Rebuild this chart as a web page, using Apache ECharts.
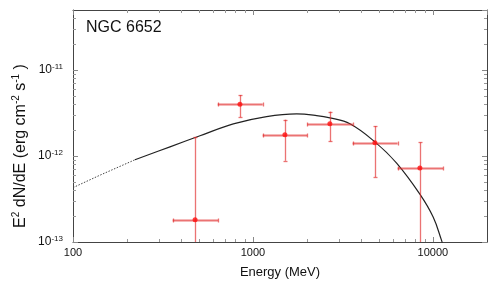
<!DOCTYPE html>
<html>
<head>
<meta charset="utf-8">
<script src="https://cdn.jsdelivr.net/npm/echarts@6/dist/echarts.min.js"></script>
<style>html,body{margin:0;padding:0;background:#fff}#c{width:491px;height:284px}</style>
</head>
<body>
<div id="c"></div>
<script>
// ---- data ----
const X_MIN = 100, X_MAX = 20000;
const Y_MIN = 1e-13, Y_MAX = 5e-11;

// data points: energy (MeV), E^2 dN/dE, x error range, y error range
const pointE   = [477, 847, 1506, 2677, 4764, 8472];
const pointY   = [1.82e-13, 4.01e-12, 1.77e-12, 2.37e-12, 1.43e-12, 7.26e-13];
const pointElo = [358, 637, 1133, 2008, 3581, 6368];
const pointEhi = [641, 1133, 2003, 3581, 6368, 11400];
const pointYlo = [1e-14, 2.83e-12, 8.8e-13, 1.48e-12, 5.68e-13, 1e-14];
const pointYhi = [1.65e-12, 5.13e-12, 2.65e-12, 3.29e-12, 2.23e-12, 1.44e-12];

// model curve (dotted below ~220 MeV, solid above)
const dottedE = [100, 141, 221];
const dottedY = [4.29e-13, 5.98e-13, 9.05e-13];
const solidE = [221, 346, 508, 778, 1191, 1750, 2260, 2680, 3460, 4760, 6290, 8470, 10040, 11170, 11400];
const solidY = [9.05e-13, 1.28e-12, 1.72e-12, 2.37e-12, 2.88e-12, 3.09e-12, 2.96e-12, 2.78e-12, 2.37e-12, 1.46e-12, 8.27e-13, 3.6e-13, 1.95e-13, 1.05e-13, 0.9e-13];

// minor tick values
const xMinorTicks = [200, 300, 400, 500, 600, 700, 800, 900, 2000, 3000, 4000, 5000, 6000, 7000, 8000, 9000];
const yMinorTicks = [2e-13, 3e-13, 4e-13, 5e-13, 6e-13, 7e-13, 8e-13, 9e-13,
                     2e-12, 3e-12, 4e-12, 5e-12, 6e-12, 7e-12, 8e-12, 9e-12,
                     2e-11, 3e-11, 4e-11];

const title = 'NGC 6652';
const xName = 'Energy (MeV)';

// ---- chart ----
const FONT = '"Liberation Sans", Arial, sans-serif';
const chart = echarts.init(document.getElementById('c'), null, {renderer: 'canvas'});

function isPow10(v) {
  const e = Math.log10(v);
  return Math.abs(e - Math.round(e)) < 1e-6;
}

const baseAxis = {
  type: 'log', logBase: 10,
  axisLine: {show: true, onZero: false, lineStyle: {color: '#444', width: 1}},
  axisTick: {show: true, inside: true, length: 5, lineStyle: {color: '#888'}},
  splitLine: {show: false},
  minorTick: {show: false}
};

const errData = pointE.map((e, i) => [e, pointY[i], pointElo[i], pointEhi[i], pointYlo[i], pointYhi[i]]);
const ERR_COLOR = 'rgba(225,40,40,0.65)';

function px(v) { return Math.round(v) + 0.5; }

const option = {
  animation: false,
  textStyle: {fontFamily: FONT},
  grid: {left: 73, right: 4, top: 10, bottom: 37, containLabel: false},
  xAxis: [
    Object.assign({}, baseAxis, {
      min: X_MIN, max: X_MAX, position: 'bottom',
      name: xName, nameLocation: 'middle', nameGap: 24,
      nameTextStyle: {fontSize: 13, color: '#111', fontFamily: FONT},
      axisLabel: {show: true, fontSize: 11, color: '#111', margin: 5, fontFamily: FONT,
        showMaxLabel: false,
        formatter: v => isPow10(v) ? String(Math.round(v)) : ''}
    }),
    Object.assign({}, baseAxis, {
      min: X_MIN, max: X_MAX, position: 'top', axisLabel: {show: false}
    })
  ],
  yAxis: [
    Object.assign({}, baseAxis, {
      min: Y_MIN, max: Y_MAX, position: 'left',
      axisLabel: {show: true, margin: 10, showMaxLabel: false, color: '#111',
        formatter: v => isPow10(v) ? '{b|10}{s|' + Math.round(Math.log10(v)) + '}' : '',
        rich: {
          b: {fontSize: 12, fontFamily: FONT, color: '#111', lineHeight: 15},
          s: {fontSize: 8, fontFamily: FONT, color: '#111', verticalAlign: 'top', lineHeight: 8}
        }
      }
    }),
    Object.assign({}, baseAxis, {
      min: Y_MIN, max: Y_MAX, position: 'right', axisLabel: {show: false}
    })
  ],
  graphic: [
    {type: 'text', left: 86, top: 20, style: {text: title, font: '16px ' + FONT, fill: '#111'}},
    {type: 'text', x: 21, y: 146, rotation: Math.PI / 2,
      style: {
        text: '{b|E}{s|2}{b| dN/dE (erg cm}{s|-2}{b| s}{s|-1}{b| )}',
        align: 'center', verticalAlign: 'middle',
        rich: {
          b: {fontSize: 16, fontFamily: FONT, fill: '#111', lineHeight: 19},
          s: {fontSize: 10, fontFamily: FONT, fill: '#111', verticalAlign: 'top', lineHeight: 10}
        }
      }
    }
  ],
  series: [
    {
      type: 'line', data: dottedE.map((e, i) => [e, dottedY[i]]),
      showSymbol: false, smooth: false, clip: true,
      lineStyle: {color: '#444', width: 1, type: [1.5, 1.5]}, z: 3
    },
    {
      type: 'line', data: solidE.map((e, i) => [e, solidY[i]]),
      showSymbol: false, smooth: 0.4, clip: true,
      lineStyle: {color: '#222', width: 1.2}, z: 3
    },
    {
      type: 'custom', data: errData, clip: true, z: 4,
      renderItem: function (params, api) {
        const c = api.coord([api.value(0), api.value(1)]);
        const l = api.coord([api.value(2), api.value(1)]);
        const r = api.coord([api.value(3), api.value(1)]);
        const lo = api.coord([api.value(0), api.value(4)]);
        const hi = api.coord([api.value(0), api.value(5)]);
        const st = {stroke: ERR_COLOR, lineWidth: 1.3};
        const x = px(c[0]), y = px(c[1]);
        return {type: 'group', children: [
          {type: 'line', shape: {x1: l[0], y1: y, x2: r[0], y2: y}, style: Object.assign({}, st, {lineWidth: 1.8})},
          {type: 'line', shape: {x1: px(l[0]), y1: y - 2, x2: px(l[0]), y2: y + 2}, style: st},
          {type: 'line', shape: {x1: px(r[0]), y1: y - 2, x2: px(r[0]), y2: y + 2}, style: st},
          {type: 'line', shape: {x1: x, y1: lo[1], x2: x, y2: hi[1]}, style: st},
          {type: 'line', shape: {x1: x - 2, y1: px(lo[1]), x2: x + 2, y2: px(lo[1])}, style: st},
          {type: 'line', shape: {x1: x - 2, y1: px(hi[1]), x2: x + 2, y2: px(hi[1])}, style: st}
        ]};
      }
    },
    {
      type: 'scatter', data: pointE.map((e, i) => [e, pointY[i]]),
      symbol: 'circle', symbolSize: 5, itemStyle: {color: '#ff1010'}, z: 5
    },
    {
      type: 'custom', data: xMinorTicks.map(v => [v, Y_MIN]), clip: false, z: 2, silent: true,
      renderItem: function (params, api) {
        const b = api.coord([api.value(0), Y_MIN]);
        const t = api.coord([api.value(0), Y_MAX]);
        const x = px(b[0]);
        const st = {stroke: '#999', lineWidth: 1};
        return {type: 'group', children: [
          {type: 'line', shape: {x1: x, y1: b[1], x2: x, y2: b[1] - 3}, style: st},
          {type: 'line', shape: {x1: x, y1: t[1], x2: x, y2: t[1] + 3}, style: st}
        ]};
      }
    },
    {
      type: 'custom', data: yMinorTicks.map(v => [X_MIN, v]), clip: false, z: 2, silent: true,
      renderItem: function (params, api) {
        const l = api.coord([X_MIN, api.value(1)]);
        const r = api.coord([X_MAX, api.value(1)]);
        const y = px(l[1]);
        const st = {stroke: '#999', lineWidth: 1};
        return {type: 'group', children: [
          {type: 'line', shape: {x1: l[0], y1: y, x2: l[0] + 3, y2: y}, style: st},
          {type: 'line', shape: {x1: r[0], y1: y, x2: r[0] - 3, y2: y}, style: st}
        ]};
      }
    }
  ]
};
chart.setOption(option);
</script>
</body>
</html>
